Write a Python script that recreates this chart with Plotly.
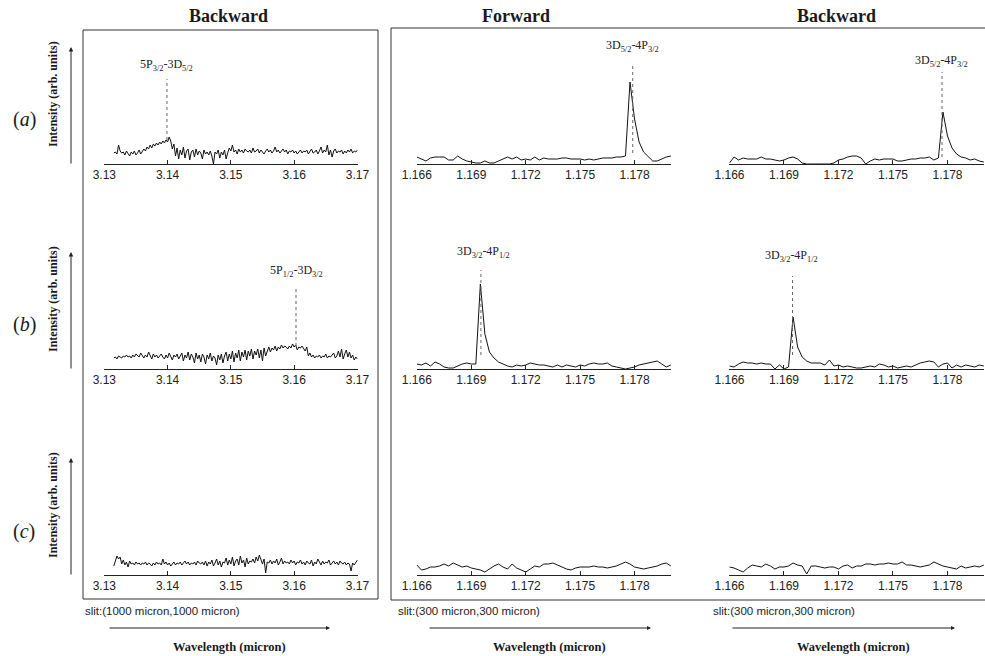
import numpy as np
import plotly.graph_objects as go

W, H = 985, 656

# ---------------- data ----------------
# wavelength sampling (micron)
left_start, left_step = 3.1315, 0.00025     # 3.1315 .. 3.170 (155 points)
nir_start, nir_step = 1.166, 0.00025         # 1.166 .. 1.180 (57 points)

# Backward, 1000 micron slit, 3.13-3.17 micron (intensity, arb. units)
back3_a = [11, 12, 10, 19, 13, 11, 12, 9, 13, 10,
           8, 12, 10, 13, 9, 11, 14, 10, 12, 15,
           13, 17, 15, 19, 16, 20, 18, 21, 19, 22,
           20, 23, 21, 24, 22, 27, 23, 15, 20, 8,
           16, 5, 14, 9, 17, 6, 13, 15, 4, 12,
           14, 7, 15, 9, 13, 11, 5, 14, 10, 12,
           9, 13, 8, 0, 12, 10, 14, 6, 12, 9,
           14, 5, 11, 16, 13, 19, 12, 14, 10, 15,
           12, 14, 11, 15, 13, 12, 14, 11, 16, 12,
           13, 15, 11, 14, 12, 10, 13, 15, 12, 14,
           11, 13, 17, 12, 14, 11, 13, 15, 12, 14,
           10, 13, 12, 14, 11, 13, 10, 12, 14, 11,
           13, 12, 14, 10, 13, 15, 11, 12, 14, 10,
           13, 17, 11, 14, 12, 19, 9, 14, 7, 13,
           15, 11, 13, 12, 14, 10, 13, 11, 14, 12,
           15, 11, 13, 12, 14]
back3_b = [11, 12, 10, 13, 12, 11, 13, 12, 14, 12,
           13, 11, 14, 12, 15, 13, 12, 16, 13, 11,
           14, 12, 17, 13, 10, 15, 12, 14, 11, 13,
           15, 12, 10, 14, 11, 16, 13, 9, 14, 12,
           15, 10, 13, 16, 8, 14, 11, 17, 9, 15,
           12, 6, 16, 10, 14, 7, 15, 12, 5, 14,
           10, 16, 8, 13, 11, 4, 14, 9, 15, 6,
           13, 17, 8, 15, 10, 18, 7, 16, 11, 19,
           8, 17, 12, 19, 9, 18, 13, 20, 10, 18,
           14, 20, 11, 19, 8, 21, 13, 18, 22, 17,
           21, 19, 23, 18, 22, 20, 24, 21, 23, 22,
           20, 23, 21, 25, 22, 24, 19, 22, 21, 23,
           20, 18, 22, 13, 16, 12, 14, 11, 13, 12,
           14, 11, 13, 12, 15, 11, 13, 12, 14, 16,
           11, 13, 18, 12, 20, 10, 15, 19, 12, 17,
           11, 14, 9, 12, 10]
back3_c = [9, 13, 19, 16, 18, 11, 15, 10, 13, 8,
           14, 11, 12, 10, 13, 11, 12, 10, 12, 11,
           13, 10, 12, 11, 9, 12, 10, 13, 11, 12,
           10, 16, 11, 13, 10, 12, 9, 11, 13, 10,
           12, 11, 13, 10, 12, 14, 11, 13, 10, 12,
           11, 13, 10, 14, 12, 11, 13, 10, 14, 9,
           13, 11, 15, 9, 12, 16, 10, 14, 8, 13,
           12, 17, 10, 15, 11, 18, 9, 14, 16, 10,
           19, 12, 15, 8, 17, 11, 14, 13, 16, 12,
           18, 14, 20, 15, 11, 16, 2, 13, 12, 15,
           11, 14, 12, 16, 10, 13, 17, 11, 14, 12,
           13, 11, 15, 12, 14, 10, 13, 12, 15, 11,
           13, 10, 14, 12, 11, 15, 9, 13, 11, 16,
           12, 10, 14, 11, 13, 12, 15, 10, 12, 14,
           11, 13, 10, 14, 12, 11, 13, 10, 12, 11,
           4, 12, 10, 13, 15]

# Forward, 300 micron slit, 1.166-1.180 micron
fwd_a = [7, 5, 3, 6, 7, 7, 7, 4, 4, 8,
         5, 3, 2, 1, 1, 3, 1, 1, 3, 5,
         7, 5, 7, 4, 5, 4, 7, 4, 6, 5,
         5, 5, 6, 6, 5, 5, 5, 4, 5, 4,
         5, 6, 6, 6, 7, 7, 8, 82, 45, 22,
         12, 7, 3, 3, 5, 7, 8]
fwd_b = [5, 4, 6, 3, 7, 5, 2, 1, 1, 3,
         5, 6, 5, 5, 85, 35, 17, 11, 7, 5,
         3, 2, 4, 3, 4, 6, 5, 4, 4, 3,
         2, 4, 2, 4, 3, 2, 4, 3, 5, 6,
         5, 5, 6, 3, 2, 1, 0, 1, 2, 4,
         5, 6, 7, 8, 5, 2, 4]
fwd_c = [10, 5, 6, 8, 8, 9, 11, 9, 12, 10,
         8, 9, 7, 6, 5, 3, 6, 9, 11, 8,
         6, 11, 7, 5, 3, 6, 9, 8, 11, 11,
         12, 10, 8, 6, 5, 7, 8, 8, 8, 9,
         8, 8, 7, 8, 9, 11, 13, 11, 8, 7,
         6, 7, 8, 9, 11, 12, 9]

# Backward, 300 micron slit, 1.166-1.180 micron
bwd_a = [1, 7, 4, 6, 5, 5, 5, 7, 5, 5,
         4, 3, 4, 6, 7, 5, 1, 0, 0, 0,
         0, 0, 0, 1, 4, 5, 7, 8, 8, 6,
         0, 3, 5, 4, 5, 5, 5, 3, 3, 4,
         5, 5, 6, 6, 7, 4, 6, 52, 28, 16,
         10, 7, 6, 4, 5, 3, 2]
bwd_b = [3, 2, 5, 7, 6, 6, 5, 6, 5, 5,
         0, 4, 0, 2, 52, 22, 12, 8, 6, 6,
         6, 4, 9, 3, 4, 2, 3, 2, 1, 1,
         2, 3, 2, 5, 4, 2, 3, 1, 2, 3,
         2, 4, 6, 7, 8, 7, 2, 5, 6, 1,
         4, 2, 4, 3, 2, 4, 3]
bwd_c = [8, 7, 5, 3, 7, 10, 9, 8, 11, 9,
         6, 8, 8, 9, 12, 10, 9, 1, 9, 9,
         8, 7, 8, 8, 6, 9, 10, 7, 9, 9,
         11, 11, 10, 11, 11, 12, 11, 11, 13, 10,
         10, 9, 8, 9, 10, 13, 11, 9, 8, 7,
         6, 9, 7, 8, 9, 8, 10]

# transition markers: panel index (row*3+col), wavelength, dotted-line bottom/top, label
mark_panel = [0, 1, 2, 3, 4, 5]
mark_wl = [3.1399, 1.1779, 1.1777, 3.1603, 1.16953, 1.16947]
mark_lo = [24, 11, 7, 23, 14, 14]
mark_hi = [85, 101, 92, 83, 99, 93]
mark_label = ["5P<sub>3/2</sub>-3D<sub>5/2</sub>",
              "3D<sub>5/2</sub>-4P<sub>3/2</sub>",
              "3D<sub>5/2</sub>-4P<sub>3/2</sub>",
              "5P<sub>1/2</sub>-3D<sub>3/2</sub>",
              "3D<sub>3/2</sub>-4P<sub>1/2</sub>",
              "3D<sub>3/2</sub>-4P<sub>1/2</sub>"]
label_wl = [3.13978, 1.17786, 1.17768, 3.1603, 1.16967, 1.16943]
label_h = [99, 118, 103, 98, 117, 113]

left_ticks = [3.13, 3.14, 3.15, 3.16, 3.17]
nir_ticks = [1.166, 1.169, 1.172, 1.175, 1.178]

col_titles = ["Backward", "Forward", "Backward"]
row_names = ["a", "b", "c"]
slit_texts = ["slit:(1000 micron,1000 micron)", "slit:(300 micron,300 micron)",
              "slit:(300 micron,300 micron)"]

# ---------------- layout helpers ----------------
def fx(p):
    return p / W

def fy(p):
    return 1 - p / H

SERIF = "Liberation Serif, Times New Roman, serif"
SANS = "Liberation Sans, Arial, sans-serif"
INK = "#1a1a1a"

col_px = [(104, 357.7), (416.7, 671), (729.3, 984)]
row_axis_px = [164, 369, 575]
PH = 130

x_left = [left_start + left_step * i for i in range(len(back3_a))]
x_nir = [nir_start + nir_step * i for i in range(len(fwd_a))]

series = [
    (x_left, back3_a), (x_nir, fwd_a), (x_nir, bwd_a),
    (x_left, back3_b), (x_nir, fwd_b), (x_nir, bwd_b),
    (x_left, back3_c), (x_nir, fwd_c), (x_nir, bwd_c),
]

fig = go.Figure()
layout = dict(
    width=W, height=H, margin=dict(l=0, r=0, t=0, b=0, autoexpand=False),
    autosize=False,
    paper_bgcolor="white", plot_bgcolor="rgba(0,0,0,0)",
    showlegend=False, annotations=[], shapes=[],
)

for p, (xs, ys) in enumerate(series):
    r, c = divmod(p, 3)
    n = p + 1
    xa = f"x{n}" if n > 1 else "x"
    ya = f"y{n}" if n > 1 else "y"
    fig.add_trace(go.Scatter(x=xs, y=ys, mode="lines", xaxis=xa, yaxis=ya,
                             line=dict(color="#111", width=1), hoverinfo="skip"))
    x0, x1 = col_px[c]
    yb = row_axis_px[r]
    if c == 0:
        rng = [3.12995, 3.17005]
        tv = left_ticks
        tt = [f"{v:.2f}" for v in left_ticks]
    else:
        rng = [1.16599, 1.18001]
        tv = nir_ticks
        tt = [f"{v:.3f}" for v in nir_ticks]
    layout[f"xaxis{n if n > 1 else ''}"] = dict(
        domain=[fx(x0), fx(x1)], anchor=ya, range=rng, showgrid=False, zeroline=False,
        showline=True, linecolor="#222", linewidth=1, ticks="inside", ticklen=4,
        tickcolor="#222", tickvals=tv, ticktext=tt, automargin=False,
        tickfont=dict(family=SANS, size=12, color="#222"), fixedrange=True)
    layout[f"yaxis{n if n > 1 else ''}"] = dict(
        domain=[fy(yb), fy(yb - PH)], anchor=xa, range=[0, PH], visible=False,
        fixedrange=True)

# dotted transition markers and labels
for k, p in enumerate(mark_panel):
    n = p + 1
    xa = f"x{n}" if n > 1 else "x"
    ya = f"y{n}" if n > 1 else "y"
    fig.add_trace(go.Scatter(x=[mark_wl[k], mark_wl[k]], y=[mark_lo[k], mark_hi[k]],
                             mode="lines", xaxis=xa, yaxis=ya, hoverinfo="skip",
                             line=dict(color="#666", width=1, dash="dot")))
    layout["annotations"].append(dict(
        x=label_wl[k], y=label_h[k], xref=xa, yref=ya, text=mark_label[k],
        showarrow=False, xanchor="center", yanchor="middle",
        font=dict(family=SERIF, size=12, color="#222")))

# frames
layout["shapes"].append(dict(type="rect", xref="paper", yref="paper",
                             x0=fx(83), x1=fx(378), y0=fy(599), y1=fy(30),
                             line=dict(color="#333", width=1)))
layout["shapes"].append(dict(type="rect", xref="paper", yref="paper",
                             x0=fx(391), x1=fx(1000), y0=fy(600), y1=fy(28),
                             line=dict(color="#333", width=1)))

# column titles
for c, (t, xc) in enumerate(zip(col_titles, [228, 516, 836])):
    layout["annotations"].append(dict(
        x=fx(xc), y=fy(16), xref="paper", yref="paper", text=f"<b>{t}</b>",
        showarrow=False, xanchor="center", yanchor="middle",
        font=dict(family=SERIF, size=18, color=INK)))

# row labels, y-axis titles and arrows
for r, yb in enumerate(row_axis_px):
    layout["annotations"].append(dict(
        x=fx(24), y=fy(yb - 44), xref="paper", yref="paper",
        text=f"(<i>{row_names[r]}</i>)", showarrow=False,
        xanchor="center", yanchor="middle",
        font=dict(family=SERIF, size=20, color=INK)))
    layout["annotations"].append(dict(
        x=fx(53), y=fy(yb - 70), xref="paper", yref="paper",
        text="<b>Intensity (arb. units)</b>", textangle=-90, showarrow=False,
        xanchor="center", yanchor="middle",
        font=dict(family=SERIF, size=12, color=INK)))
    layout["annotations"].append(dict(
        x=fx(71), y=fy(yb - 117), xref="paper", yref="paper", text="",
        showarrow=True, ax=0, ay=118, arrowhead=2, arrowsize=0.9,
        arrowwidth=1, arrowcolor="#222"))

# bottom: slit texts, wavelength arrows and titles
slit_x = [83, 396, 711]
arrow_x = [(108, 330), (428, 651), (731, 955)]
for c in range(3):
    layout["annotations"].append(dict(
        x=fx(slit_x[c]), y=fy(611), xref="paper", yref="paper", text=slit_texts[c],
        showarrow=False, xanchor="left", yanchor="middle",
        font=dict(family=SANS, size=11.5, color="#222")))
    a0, a1 = arrow_x[c]
    layout["annotations"].append(dict(
        x=fx(a1), y=fy(628), xref="paper", yref="paper", text="",
        showarrow=True, ax=-(a1 - a0), ay=0, arrowhead=2, arrowsize=0.8,
        arrowwidth=1, arrowcolor="#222"))
    layout["annotations"].append(dict(
        x=fx((a0 + a1) / 2 + 10), y=fy(647), xref="paper", yref="paper",
        text="<b>Wavelength (micron)</b>", showarrow=False,
        xanchor="center", yanchor="middle",
        font=dict(family=SERIF, size=12.5, color=INK)))

fig.update_layout(**layout)
fig.write_html("out.html", include_plotlyjs=True,
               config={"displayModeBar": False, "responsive": False},
               post_script="document.body.style.margin='0';document.body.style.overflow='hidden';")
